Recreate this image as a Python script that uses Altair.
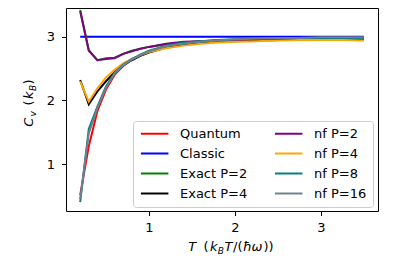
import altair as alt
import pandas as pd

T = [0.2, 0.3, 0.4, 0.5, 0.6, 0.7, 0.8, 0.9, 1.0, 1.2, 1.4, 1.6, 1.8, 2.0, 2.25, 2.5, 2.75, 3.0, 3.25, 3.5]

quantum = [0.51, 1.28, 1.83, 2.17, 2.40, 2.54, 2.64, 2.71, 2.76, 2.83, 2.88, 2.90, 2.92, 2.94, 2.95, 2.96, 2.97, 2.97, 2.98, 2.98]
classic = [3.0] * len(T)
exact_p2 = [3.42, 2.79, 2.63, 2.66, 2.67, 2.73, 2.78, 2.81, 2.84, 2.88, 2.91, 2.93, 2.94, 2.95, 2.96, 2.96, 2.97, 2.97, 2.97, 2.97]
exact_p4 = [2.32, 1.94, 2.14, 2.30, 2.44, 2.55, 2.63, 2.70, 2.75, 2.83, 2.87, 2.90, 2.92, 2.93, 2.94, 2.95, 2.96, 2.96, 2.96, 2.96]
nf_p2 = [3.40, 2.78, 2.63, 2.65, 2.66, 2.73, 2.77, 2.81, 2.84, 2.89, 2.92, 2.93, 2.94, 2.95, 2.96, 2.97, 2.97, 2.97, 2.97, 2.97]
nf_p4 = [2.30, 1.98, 2.19, 2.36, 2.48, 2.58, 2.65, 2.71, 2.76, 2.82, 2.86, 2.89, 2.91, 2.92, 2.93, 2.94, 2.95, 2.95, 2.95, 2.94]
nf_p8 = [0.40, 1.55, 1.90, 2.22, 2.43, 2.56, 2.65, 2.72, 2.78, 2.86, 2.91, 2.93, 2.95, 2.96, 2.97, 2.97, 2.98, 2.98, 2.98, 2.98]
nf_p16 = [0.45, 1.48, 1.88, 2.20, 2.42, 2.55, 2.64, 2.71, 2.77, 2.85, 2.89, 2.92, 2.94, 2.96, 2.97, 2.98, 2.98, 2.99, 2.99, 2.99]

series_names = ["Quantum", "Classic", "Exact P=2", "Exact P=4", "nf P=2", "nf P=4", "nf P=8", "nf P=16"]
series_values = [quantum, classic, exact_p2, exact_p4, nf_p2, nf_p4, nf_p8, nf_p16]
series_colors = ["#ff0000", "#0000ff", "#008000", "#000000", "#800080", "#ffa500", "#008080", "#708090"]

x_ticks = [1, 2, 3]
y_ticks = [1, 2, 3]

rows = []
for name, vals in zip(series_names, series_values):
    for t, v in zip(T, vals):
        rows.append({"T": t, "Cv": v, "series": name})
df = pd.DataFrame(rows)

FONT = "DejaVu Sans"

color_enc = alt.Color(
    "series:N",
    scale=alt.Scale(domain=series_names, range=series_colors),
    legend=alt.Legend(
        title=None,
        orient="none",
        legendX=67,
        legendY=113,
        columns=2,
        symbolType="M-1,0H5",
        symbolSize=84,
        symbolStrokeWidth=2,
        labelOffset=28,
        labelFont=FONT,
        labelFontSize=13,
        labelColor="black",
        columnPadding=22,
        rowPadding=6,
        padding=6,
        fillColor="rgba(255,255,255,0.8)",
        strokeColor="#cccccc",
        cornerRadius=3,
    ),
)

x_enc = alt.X(
    "T:Q",
    scale=alt.Scale(domain=[0.035, 3.665], nice=False, zero=False),
    axis=alt.Axis(values=x_ticks, format="d", title=None),
)
y_enc = alt.Y(
    "Cv:Q",
    scale=alt.Scale(domain=[0.262, 3.451], nice=False, zero=False),
    axis=alt.Axis(values=y_ticks, format="d", title=None),
)

base = alt.Chart(df).mark_line(strokeWidth=2, clip=True).encode(x=x_enc, y=y_enc, color=color_enc)
lines = [base.transform_filter(alt.datum.series == n) for n in series_names]


def piece(s, x, y, size=13, italic=False, angle=0):
    return alt.Chart(alt.Data(values=[{"a": 0}])).mark_text(
        font=FONT,
        fontSize=size,
        fontStyle="italic" if italic else "normal",
        align="left",
        baseline="alphabetic",
        angle=angle,
        color="black",
    ).encode(x=alt.value(x), y=alt.value(y), text=alt.value(s))


# x title: T (k_B T/(ħω))
xb = 242.5
xt = [
    piece("T", 122.3, xb, italic=True),
    piece("(", 137.5, xb),
    piece("k", 144.0, xb, italic=True),
    piece("B", 151.8, xb + 3, size=9, italic=True),
    piece("T", 158.5, xb, italic=True),
    piece("/(", 167.0, xb),
    piece("ħ", 177.0, xb, italic=True),
    piece("ω", 185.5, xb, italic=True),
    piece("))", 197.5, xb),
]

# y title: C_v (k_B), rotated
yb = -32.7
yt = [
    piece("C", yb, 118.7, italic=True, angle=270),
    piece("v", yb + 3, 108.5, size=9, italic=True, angle=270),
    piece("(", yb, 97.5, angle=270),
    piece("k", yb, 91.0, italic=True, angle=270),
    piece("B", yb + 3, 83.0, size=9, italic=True, angle=270),
    piece(")", yb, 76.5, angle=270),
]

chart = alt.layer(*lines, *xt, *yt).properties(
    width=312,
    height=203,
    padding={"left": 58, "top": 0, "right": 10, "bottom": 50},
    autosize=alt.AutoSizeParams(type="none"),
).configure_view(
    stroke="black", strokeWidth=1
).configure_axis(
    domain=False,
    grid=False,
    ticks=True,
    tickColor="black",
    tickWidth=1,
    tickSize=4.5,
    labelFont=FONT,
    labelFontSize=13,
    labelColor="black",
).configure_axisX(
    labelPadding=6
).configure_axisY(
    labelPadding=7
)

chart.save("out.html", embed_options={"renderer": "svg", "actions": False})
